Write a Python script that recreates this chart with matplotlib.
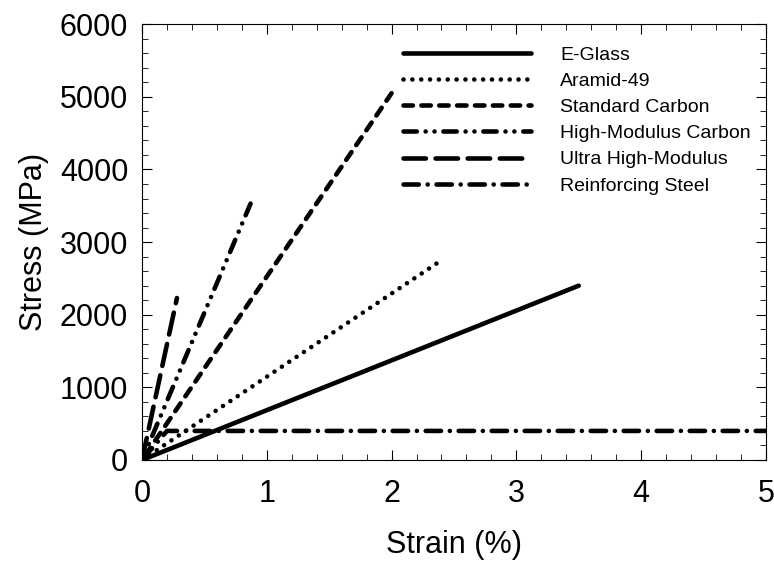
import matplotlib.pyplot as plt
from matplotlib.lines import Line2D
from matplotlib.ticker import MultipleLocator

plt.rcParams['font.family'] = ['Liberation Sans', 'DejaVu Sans']

# fibre stress-strain data (strain %, stress MPa)
names = ["E-Glass", "Aramid-49", "Standard Carbon", "High-Modulus Carbon",
         "Ultra High-Modulus", "Reinforcing Steel"]
eglass_x = [0, 3.5]
eglass_y = [0, 2400]
aramid_x = [0, 2.4]
aramid_y = [0, 2750]
stdcarbon_x = [0, 2.0]
stdcarbon_y = [0, 5050]
hmcarbon_x = [0, 0.87]
hmcarbon_y = [0, 3530]
uhm_x = [0, 0.28]
uhm_y = [0, 2230]
steel_x = [0, 0.2, 5.0]
steel_y = [0, 400, 400]

# dash patterns (in line-width units, round caps)
dashes = [
    (),
    (0.01, 1.92),
    (2.05, 1.85),
    (2.9, 1.93, 0.01, 1.93, 0.01, 1.93),
    (4.9, 2.1),
    (3.35, 1.92, 0.01, 1.92),
]
# offsets so the curves end on a dash, like the original
offsets = [0, 0, 2.7, 3.0, 0, 0]

fig = plt.figure(figsize=(7.74, 5.63), dpi=100)
ax = fig.add_axes([0.1835, 0.183, 0.806, 0.774])

series = [(eglass_x, eglass_y), (aramid_x, aramid_y), (stdcarbon_x, stdcarbon_y),
          (hmcarbon_x, hmcarbon_y), (uhm_x, uhm_y), (steel_x, steel_y)]
handles = []
for (x, y), name, d, off in zip(series, names, dashes, offsets):
    ax.plot(x, y, color='black', lw=3.3, linestyle=(off, d),
            solid_capstyle='butt', dash_capstyle='round')
    handles.append(Line2D([], [], color='black', lw=3.3, linestyle=(0, d),
                          solid_capstyle='butt', dash_capstyle='round', label=name))

ax.set_xlim(0, 5)
ax.set_ylim(0, 6000)
ax.xaxis.set_major_locator(MultipleLocator(1))
ax.xaxis.set_minor_locator(MultipleLocator(0.2))
ax.yaxis.set_major_locator(MultipleLocator(1000))
ax.yaxis.set_minor_locator(MultipleLocator(200))
ax.tick_params(which='both', direction='in', top=True, right=True, labelsize=22)
ax.tick_params(which='major', length=7)
ax.tick_params(which='minor', length=4)
ax.tick_params(axis='y', pad=10)
ax.tick_params(axis='x', pad=14)
ax.set_xlabel("Strain (%)", fontsize=22, labelpad=15)
ax.set_ylabel("Stress (MPa)", fontsize=22, labelpad=8)

ax.legend(handles=handles, loc='upper left', bbox_to_anchor=(0.39, 0.99), frameon=False,
          handlelength=6.6, fontsize=14, labelspacing=0.44, handletextpad=1.5)

fig.savefig("out.png", dpi=100)
